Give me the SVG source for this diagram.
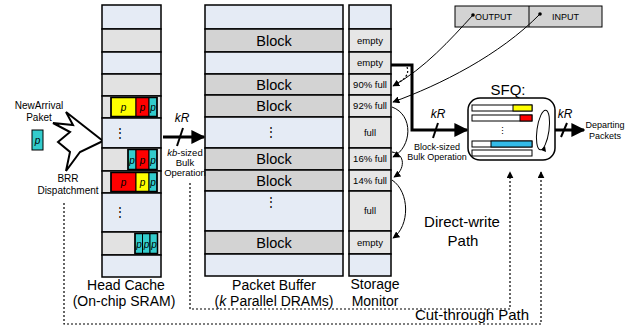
<svg xmlns="http://www.w3.org/2000/svg" width="637" height="328" viewBox="0 0 637 328">
<style>
text{font-family:"Liberation Sans",Arial,sans-serif;fill:#000}
.lb{fill:#e5ebf5;stroke:#000;stroke-width:1.5}
.g{fill:#e2e2e2;stroke:#000;stroke-width:1.5}
.bg{fill:#d3d3d3;stroke:#000;stroke-width:1.5}
.sm{fill:#e6e6e6;stroke:#000;stroke-width:1.5}
.pk{stroke:#000;stroke-width:1}
.y{fill:#ffff00}.r{fill:#ff0000}.c{fill:#33cccc}.bl{fill:#33bbe8}
.blk{font-size:14.5px;text-anchor:middle}
.st{font-size:9.5px;text-anchor:middle}
.pp{font-size:10px;font-style:italic;text-anchor:middle}
.lbl{font-size:15px;text-anchor:middle}
.cap{font-size:14px;text-anchor:middle}
.sml{font-size:9.5px;text-anchor:middle}
.thick{fill:none;stroke:#000;stroke-width:3}
.thin{fill:none;stroke:#000;stroke-width:1}
.dot{fill:none;stroke:#000;stroke-width:1.2;stroke-dasharray:2,2}
.bar{fill:#fff;stroke:#000;stroke-width:1}
</style>
<defs>
<marker id="ahs" viewBox="0 0 10 10" refX="9" refY="5" markerWidth="7" markerHeight="7" markerUnits="userSpaceOnUse" orient="auto"><path d="M0,0 L10,5 L0,10 z" fill="#000"/></marker>
<marker id="big" viewBox="0 0 10 10" refX="9" refY="5" markerWidth="14" markerHeight="14" markerUnits="userSpaceOnUse" orient="auto"><path d="M0,0 L10,5 L0,10 z" fill="#000"/></marker>
</defs>

<g id="arrival">
<text x="39" y="109" font-size="10" text-anchor="middle">NewArrival</text>
<text x="39" y="121" font-size="10" text-anchor="middle">Paket</text>
<rect x="32" y="130" width="11" height="20" class="c pk"/>
<text x="37.5" y="144" class="pp">p</text>
<polygon points="66,112 103,141 80,152 66,171 70,152 58,142 70,132 53,123 73,125" fill="#fff" stroke="#000" stroke-width="2"/>
<text x="68" y="182" font-size="10" text-anchor="middle">BRR</text>
<text x="68" y="194" font-size="10" text-anchor="middle">Dispatchment</text>
</g>

<g id="head-cache">
<rect x="102" y="5" width="59" height="24" class="lb"/>
<rect x="102" y="29" width="59" height="23" class="g"/>
<rect x="102" y="52" width="59" height="22" class="lb"/>
<rect x="102" y="74" width="59" height="22" class="g"/>
<rect x="102" y="96" width="59" height="22" class="g"/>
<rect x="111" y="97.5" width="25" height="19" class="y pk"/><text x="123.5" y="111" class="pp">p</text>
<rect x="136" y="97.5" width="13" height="19" class="r pk"/><text x="142.5" y="111" class="pp">p</text>
<rect x="149" y="97.5" width="8" height="19" class="c pk"/><text x="153" y="111" class="pp">p</text>
<rect x="111" y="97.5" width="46" height="19" fill="none" stroke="#000" stroke-width="1.5"/>
<rect x="102" y="118" width="59" height="30" class="lb"/>
<text x="120" y="137" font-size="12" text-anchor="middle">⋮</text>
<rect x="102" y="148" width="59" height="23" class="g"/>
<rect x="128" y="149.5" width="8" height="20" class="c pk"/><text x="132" y="164" class="pp">p</text>
<rect x="136" y="149.5" width="13" height="20" class="r pk"/><text x="142.5" y="164" class="pp">p</text>
<rect x="149" y="149.5" width="8" height="20" class="c pk"/><text x="153" y="164" class="pp">p</text>
<rect x="128" y="149.5" width="29" height="20" fill="none" stroke="#000" stroke-width="1.5"/>
<rect x="102" y="171" width="59" height="22" class="g"/>
<rect x="111" y="172.5" width="25" height="19" class="r pk"/><text x="123.5" y="186" class="pp">p</text>
<rect x="136" y="172.5" width="13" height="19" class="y pk"/><text x="142.5" y="186" class="pp">p</text>
<rect x="149" y="172.5" width="8" height="19" class="c pk"/><text x="153" y="186" class="pp">p</text>
<rect x="111" y="172.5" width="46" height="19" fill="none" stroke="#000" stroke-width="1.5"/>
<rect x="102" y="193" width="59" height="39" class="lb"/>
<text x="120" y="216" font-size="12" text-anchor="middle">⋮</text>
<rect x="102" y="232" width="59" height="23" class="g"/>
<rect x="135" y="233.5" width="7.5" height="20" class="c pk"/><text x="139" y="248" class="pp">p</text>
<rect x="142.5" y="233.5" width="7.5" height="20" class="c pk"/><text x="146.5" y="248" class="pp">p</text>
<rect x="150" y="233.5" width="7.5" height="20" class="c pk"/><text x="154" y="248" class="pp">p</text>
<rect x="135" y="233.5" width="22.5" height="20" fill="none" stroke="#000" stroke-width="1.5"/>
<rect x="102" y="255" width="59" height="22" class="lb"/>
<text x="126" y="290" class="cap">Head Cache</text>
<text x="124" y="306" class="cap">(On-chip SRAM)</text>
</g>

<g id="packet-buffer">
<rect x="205" y="5" width="138" height="24" class="lb"/>
<rect x="205" y="29" width="138" height="23" class="bg"/><text x="274" y="46" class="blk">Block</text>
<rect x="205" y="52" width="138" height="22" class="lb"/>
<rect x="205" y="74" width="138" height="21" class="bg"/><text x="274" y="90" class="blk">Block</text>
<rect x="205" y="95" width="138" height="22" class="bg"/><text x="274" y="111" class="blk">Block</text>
<rect x="205" y="117" width="138" height="31" class="lb"/><text x="271" y="136" font-size="12" text-anchor="middle">⋮</text>
<rect x="205" y="148" width="138" height="22" class="bg"/><text x="274" y="164" class="blk">Block</text>
<rect x="205" y="170" width="138" height="21" class="bg"/><text x="274" y="186" class="blk">Block</text>
<rect x="205" y="191" width="138" height="40" class="lb"/><text x="271" y="206" font-size="12" text-anchor="middle">⋮</text>
<rect x="205" y="231" width="138" height="23" class="bg"/><text x="274" y="248" class="blk">Block</text>
<rect x="205" y="254" width="138" height="22" class="lb"/>
<text x="274" y="290" class="cap">Packet Buffer</text>
<text x="274" y="306" class="cap">(<tspan font-style="italic">k</tspan> Parallel DRAMs)</text>
</g>

<g id="storage-monitor">
<rect x="349" y="5" width="42" height="24" class="lb"/>
<rect x="349" y="29" width="42" height="23" class="sm"/><text x="370" y="44" class="st">empty</text>
<rect x="349" y="52" width="42" height="22" class="sm"/><text x="370" y="66" class="st">empty</text>
<rect x="349" y="74" width="42" height="21" class="sm"/><text x="370" y="88" class="st">90% full</text>
<rect x="349" y="95" width="42" height="22" class="sm"/><text x="370" y="109" class="st">92% full</text>
<rect x="349" y="117" width="42" height="31" class="sm"/><text x="370" y="136" class="st">full</text>
<rect x="349" y="148" width="42" height="22" class="sm"/><text x="370" y="162" class="st">16% full</text>
<rect x="349" y="170" width="42" height="21" class="sm"/><text x="370" y="184" class="st">14% full</text>
<rect x="349" y="191" width="42" height="40" class="sm"/><text x="370" y="214" class="st">full</text>
<rect x="349" y="231" width="42" height="23" class="sm"/><text x="370" y="246" class="st">empty</text>
<rect x="349" y="254" width="42" height="22" class="lb"/>
<text x="375" y="289" class="cap">Storage</text>
<text x="375" y="306" class="cap">Monitor</text>
</g>

<g id="io-register">
<rect x="455" y="6" width="147" height="21" fill="#d3d3d3" stroke="#000" stroke-width="1"/>
<line x1="529" y1="6" x2="529" y2="27" stroke="#000" stroke-width="1"/>
<circle cx="473" cy="15" r="1.8" fill="#000"/>
<text x="475" y="20" font-size="9">OUTPUT</text>
<circle cx="540" cy="14" r="1.8" fill="#000"/>
<text x="552" y="20" font-size="9">INPUT</text>
</g>

<g id="sfq">
<text x="508" y="95" class="lbl">SFQ:</text>
<rect x="468" y="98" width="87" height="62" rx="12" fill="#fff" stroke="#000" stroke-width="1.5"/>
<rect x="472" y="105" width="60" height="6" class="bar"/><rect x="513" y="105" width="19" height="6" class="y pk"/>
<rect x="472" y="115" width="60" height="6" class="bar"/><rect x="520" y="115" width="12" height="6" class="r pk"/>
<text x="502" y="134" font-size="9" text-anchor="middle">⋮</text>
<rect x="472" y="141" width="60" height="6" class="bar"/><rect x="491" y="141" width="41" height="6" class="bl pk"/>
<rect x="472" y="150" width="60" height="6" class="bar"/>
<ellipse cx="543" cy="130" rx="6" ry="20" transform="rotate(8 543 130)" fill="none" stroke="#000" stroke-width="1"/>
<path d="M541,150 L545,146 L546,152 z" fill="#000"/>
</g>

<g id="connectors">
<line x1="163" y1="137" x2="204" y2="137" class="thick" marker-end="url(#big)"/>
<line x1="177" y1="146" x2="183" y2="128" stroke="#000" stroke-width="2"/>
<text x="182" y="122" font-size="12" font-style="italic" text-anchor="middle">kR</text>
<text x="185" y="156" class="sml"><tspan font-style="italic">kb</tspan>-sized</text>
<text x="185" y="166" class="sml">Bulk</text>
<text x="185" y="176" class="sml">Operation</text>

<path d="M391,65 H412 V130 H467" class="thick" marker-end="url(#big)"/>
<line x1="433" y1="138" x2="438" y2="123" stroke="#000" stroke-width="2"/>
<text x="438" y="118" font-size="12" font-style="italic" text-anchor="middle">kR</text>
<text x="437" y="150" font-size="9" text-anchor="middle">Block-sized</text>
<text x="437" y="160" font-size="9" text-anchor="middle">Bulk Operation</text>

<line x1="555" y1="130" x2="584" y2="130" class="thick" marker-end="url(#big)"/>
<line x1="561" y1="137" x2="567" y2="123" stroke="#000" stroke-width="2"/>
<text x="565" y="118" font-size="12" font-style="italic" text-anchor="middle">kR</text>
<text x="605" y="128" font-size="9" text-anchor="middle">Departing</text>
<text x="605" y="139" font-size="9" text-anchor="middle">Packets</text>

<path d="M473,15 C450,40 425,68 393,86" class="thin" marker-end="url(#ahs)"/>
<path d="M540,14 C500,55 440,85 393,102" class="thin" marker-end="url(#ahs)"/>
<path d="M407,67 C410,75 403,81 395,84" class="dot" stroke-width="1"/>
<path d="M392,107 C414,115 412,147 393,157" class="thin" marker-end="url(#ahs)"/>
<path d="M392,152 C406,154 405,170 394,177" class="thin" marker-end="url(#ahs)"/>
<path d="M392,180 C410,192 410,226 393,238" class="thin" marker-end="url(#ahs)"/>

<path d="M190,183 V309 H510 V172" class="dot" marker-end="url(#ahs)"/>
<path d="M64,203 V324 H541 V172" class="dot" marker-end="url(#ahs)"/>
<text x="462" y="227" class="lbl">Direct-write</text>
<text x="463" y="246" class="lbl">Path</text>
<text x="472" y="320" class="lbl">Cut-through Path</text>
</g>
</svg>
